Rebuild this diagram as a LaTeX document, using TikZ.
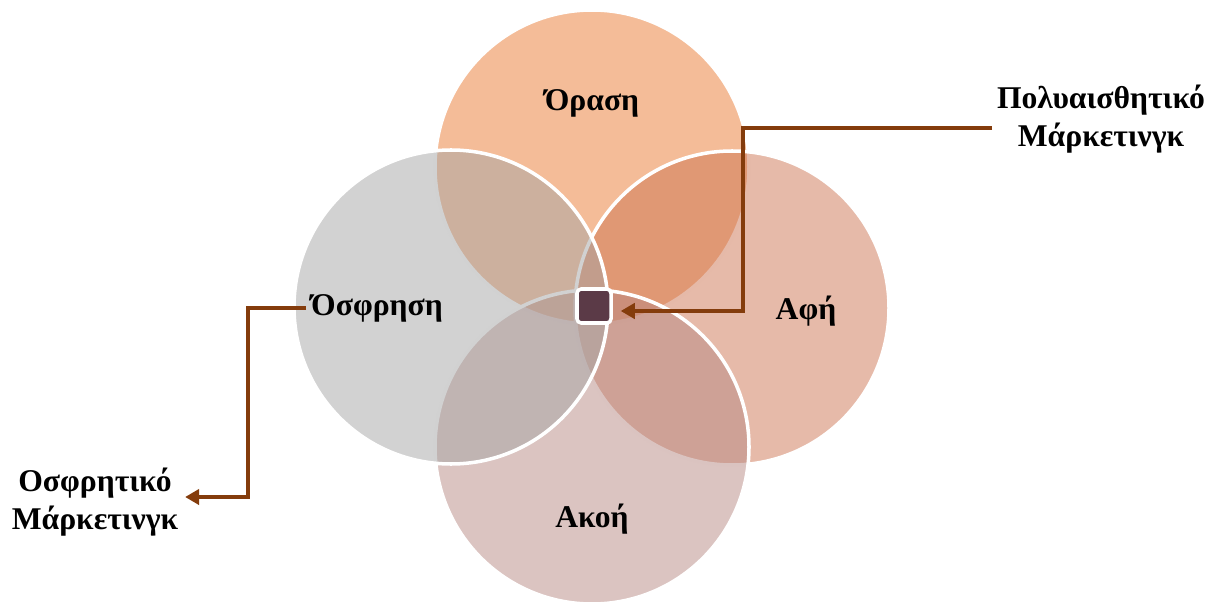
\documentclass[tikz,border=0pt]{standalone}
\usepackage{fontspec}
\setmainfont{Liberation Serif}
\usetikzlibrary{positioning, calc, arrows.meta}
\definecolor{visionC}{RGB}{233,121,49}
\definecolor{smellC}{RGB}{165,165,165}
\definecolor{touchC}{RGB}{205,117,83}
\definecolor{hearC}{RGB}{183,137,131}
\definecolor{coreC}{RGB}{91,58,71}
\definecolor{arrowC}{RGB}{132,60,12}
\tikzset{
    sense/.style={draw=white, line width=2.5pt, fill opacity=0.5},
    label/.style={font=\fontsize{22.5}{27}\selectfont\bfseries, align=center},
    link/.style={draw=arrowC, line width=2.2pt, -{Triangle[length=10pt,width=11pt]}}
}
\begin{document}
\begin{tikzpicture}[x=0.025cm, y=-0.025cm]
        \useasboundingbox (0,0) rectangle (1214,603);
        \draw[sense, fill=visionC] (592,167) circle (157);
        \draw[sense, fill=touchC] (732,308) circle (157);
        \draw[sense, fill=hearC] (592,447) circle (157);
        \draw[sense, fill=smellC] (451,307) circle (157);
        \node[draw=white, line width=2.5pt, fill=coreC, rounded corners=3pt,
              minimum size=0.85cm] (core) at (594,306) {};
        \node[label] (vision) at (592,103) {Όραση};
        \node[label] (smell) at (377,308) {Όσφρηση};
        \node[label] (touch) at (806,311) {Αφή};
        \node[label] (hear) at (592,519) {Ακοή};
        \node[label] (multi) at (1101,119) {Πολυαισθητικό\\Μάρκετινγκ};
        \node[label] (olfact) at (95,502) {Οσφρητικό\\Μάρκετινγκ};
        \coordinate (multiIn) at ($(multi.west)+(0,9)$);
        \coordinate (coreIn) at ($(core.east)+(8,5)$);
        \coordinate (olfactIn) at ($(olfact.east)+(2,-5)$);
        \draw[link] (multiIn) -| (743,311) -- (coreIn);
        \draw[link] (smell.west) -| (248,497) -- (olfactIn);
    \end{tikzpicture}
\end{document}
